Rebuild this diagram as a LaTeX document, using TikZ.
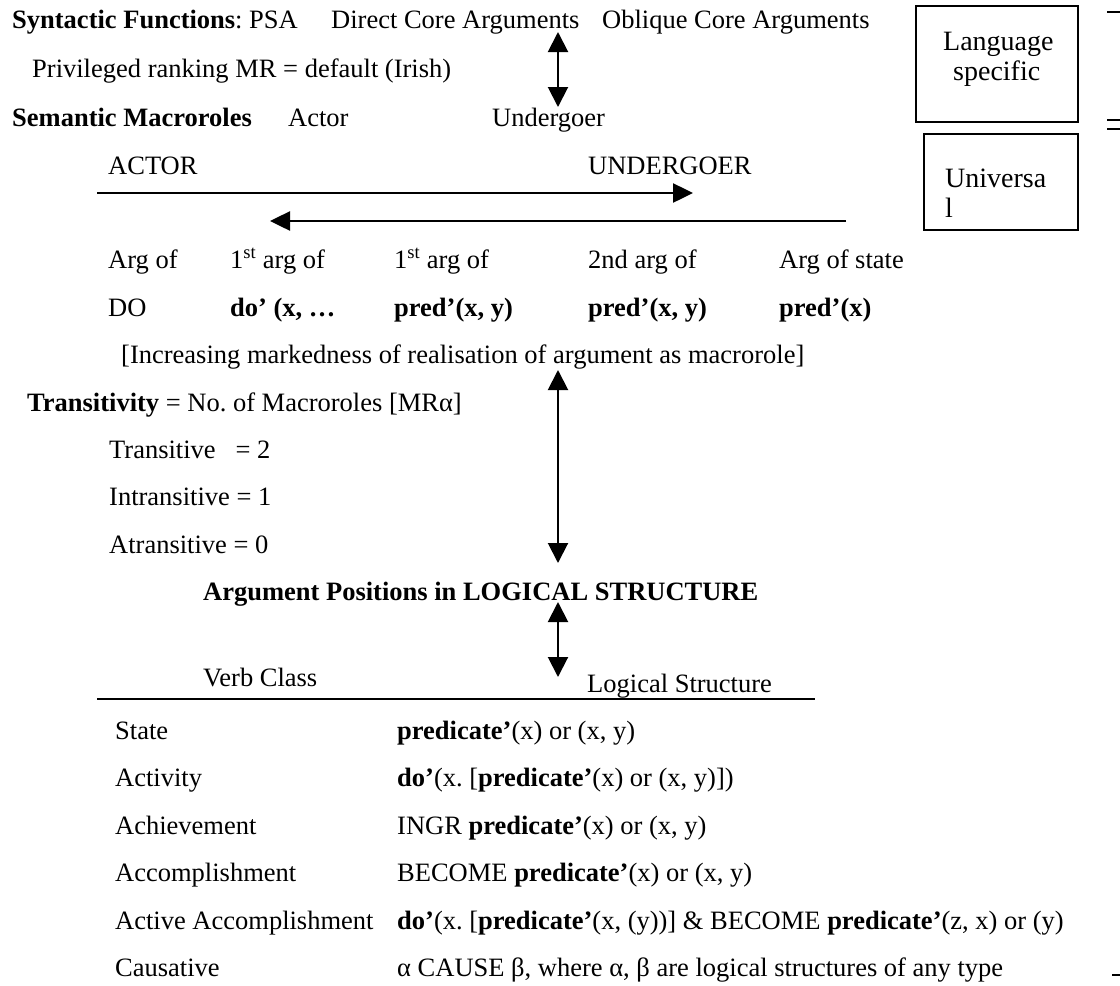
\documentclass[tikz,border=0pt]{standalone}
\usepackage{fontspec}
\setmainfont{Liberation Serif}
\usetikzlibrary{arrows.meta}
\frenchspacing

\begin{document}
\begin{tikzpicture}[x=1pt,y=-1pt,
  txt/.style={anchor=base west,inner sep=0pt,font=\fontsize{26.5}{32}\selectfont},
  boxtxt/.style={anchor=base west,inner sep=0pt,font=\fontsize{28}{32}\selectfont},
  both/.style={line width=2pt,{Triangle[length=20pt,width=20pt]}-{Triangle[length=20pt,width=20pt]}},
  onearrow/.style={line width=2.5pt,-{Triangle[length=20pt,width=19pt]}}]

\useasboundingbox (0,0) rectangle (1120,986);

\node[txt] (synfn) at (12,28) {\textbf{Syntactic Functions}: PSA};
\node[txt] (dca) at (331,28) {Direct Core Arguments};
\node[txt] (oca) at (602,28) {Oblique Core Arguments};
\node[txt] (rank) at (32,77) {Privileged ranking MR = default (Irish)};
\node[txt] (semmr) at (12,126) {\textbf{Semantic Macroroles}};
\node[txt] (actor) at (288,126) {Actor};
\node[txt] (undergoer) at (492,126) {Undergoer};

\coordinate (t1) at (558,32);
\coordinate (t2) at (558,107);
\draw[both] (t1) -- (t2);

% language boxes
\draw[line width=1.5pt] (916,6) rectangle (1078,122);
\node[boxtxt] (lang) at (943,50) {Language};
\node[boxtxt] (spec) at (953,80) {specific};
\draw[line width=1.5pt] (924,134) rectangle (1078,230);
\node[boxtxt] (univ) at (945,187) {Universa};
\node[boxtxt] (univl) at (945,217) {l};
\draw[line width=1.5pt] (1107,12) -- (1120,12);
\draw[line width=1.5pt] (1107,120) -- (1120,120);
\draw[line width=1.5pt] (1107,129) -- (1120,129);

% hierarchy
\node[txt] (actorU) at (108,174) {ACTOR};
\node[txt] (undU) at (588,174) {UNDERGOER};
\coordinate (h1a) at (97,193);
\coordinate (h1b) at (693,193);
\coordinate (h2a) at (846,221);
\coordinate (h2b) at (270,221);
\draw[onearrow] (h1a) -- (h1b);
\draw[onearrow] (h2a) -- (h2b);

\node[txt] (arg1) at (108,268) {Arg of};
\node[txt] (arg2) at (230,268) {1\textsuperscript{st} arg of};
\node[txt] (arg3) at (394,268) {1\textsuperscript{st} arg of};
\node[txt] (arg4) at (588,268) {2nd arg of};
\node[txt] (arg5) at (779,268) {Arg of state};
\node[txt] (ls1) at (108,316) {DO};
\node[txt] (ls2) at (230,316) {\textbf{do’ (x, …}};
\node[txt] (ls3) at (394,316) {\textbf{pred’(x, y)}};
\node[txt] (ls4) at (588,316) {\textbf{pred’(x, y)}};
\node[txt] (ls5) at (779,316) {\textbf{pred’(x)}};
\node[txt] (incr) at (121,363) {[Increasing markedness of realisation of argument as macrorole]};

% transitivity
\node[txt] (trans) at (27,411) {\textbf{Transitivity} = No. of Macroroles [MRα]};
\node[txt] (tr2) at (109,458) {Transitive\hspace{0.75em}= 2};
\node[txt] (tr1) at (109,505) {Intransitive = 1};
\node[txt] (tr0) at (109,553) {Atransitive = 0};

\coordinate (m1) at (558,370);
\coordinate (m2) at (558,563);
\draw[both] (m1) -- (m2);

\node[txt] (argpos) at (203,600) {\textbf{Argument Positions in LOGICAL STRUCTURE}};
\coordinate (b1) at (558,602);
\coordinate (b2) at (558,677);
\draw[both] (b1) -- (b2);

% verb classes
\node[txt] (vchead) at (203,686) {Verb Class};
\node[txt] (lshead) at (587,692) {Logical Structure};
\coordinate (rl) at (97,699);
\coordinate (rr) at (815,699);
\draw[line width=2.5pt] (rl) -- (rr);

\node[txt] (vc1) at (115,739) {State};
\node[txt] (vc2) at (115,786.5) {Activity};
\node[txt] (vc3) at (115,834) {Achievement};
\node[txt] (vc4) at (115,881.5) {Accomplishment};
\node[txt] (vc5) at (115,929) {Active Accomplishment};
\node[txt] (vc6) at (115,976.5) {Causative};
\node[txt] (lsr1) at (397,739) {\textbf{predicate’}(x) or (x, y)};
\node[txt] (lsr2) at (397,786.5) {\textbf{do’}(x. [\textbf{predicate’}(x) or (x, y)])};
\node[txt] (lsr3) at (397,834) {INGR \textbf{predicate’}(x) or (x, y)};
\node[txt] (lsr4) at (397,881.5) {BECOME \textbf{predicate’}(x) or (x, y)};
\node[txt] (lsr5) at (397,929) {\textbf{do’}(x. [\textbf{predicate’}(x, (y))] \& BECOME \textbf{predicate’}(z, x) or (y)};
\node[txt] (lsr6) at (397,976.5) {α CAUSE β, where α, β are logical structures of any type};
\draw[line width=1.5pt] (1112,975) -- (1120,975);

\end{tikzpicture}
\end{document}
